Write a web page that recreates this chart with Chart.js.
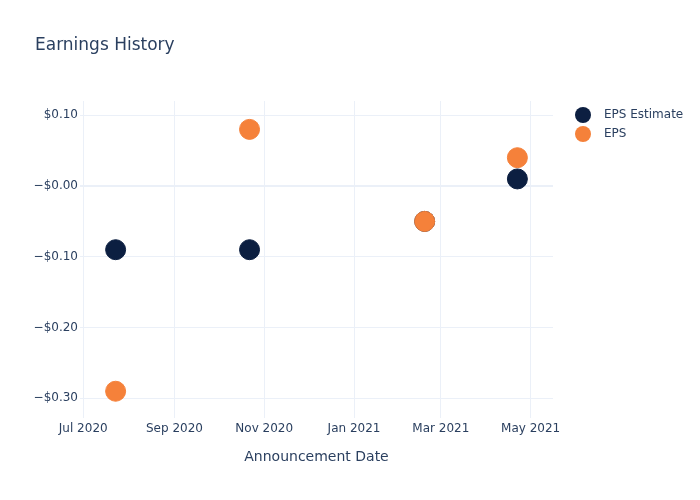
<!DOCTYPE html>
<html>
<head>
<meta charset="utf-8">
<title>Earnings History</title>
<script src="https://cdn.jsdelivr.net/npm/chart.js@4.4.1/dist/chart.umd.min.js"></script>
<style>
  html, body { margin: 0; padding: 0; background: #fff; }
  #wrap { width: 700px; height: 500px; }
</style>
</head>
<body>
<div id="wrap"><canvas id="earningsChart" width="700" height="500"></canvas></div>
<script>
// Announcement dates and EPS values
const announceDates = ['2020-07-23', '2020-10-22', '2021-02-18', '2021-04-22'];
const epsEstimate = [-0.09, -0.09, -0.05, 0.01];
const epsActual = [-0.29, 0.08, -0.05, 0.04];

// Axis ticks
const xTickDates = ['2020-07-01', '2020-09-01', '2020-11-01', '2021-01-01', '2021-03-01', '2021-05-01'];
const xTickLabels = ['Jul 2020', 'Sep 2020', 'Nov 2020', 'Jan 2021', 'Mar 2021', 'May 2021'];
const yTickValues = [-0.3, -0.2, -0.1, 0, 0.1];
const yTickLabels = ['\u2212$0.30', '\u2212$0.20', '\u2212$0.10', '\u2212$0.00', '$0.10'];

const toMs = (d) => Date.parse(d + 'T00:00:00Z');
const DAY = 86400000;

const navy = '#0c1f41';
const orange = '#f5813a';
const textColor = '#2a3f5f';
const gridColor = '#ebf0f8';
const fontFamily = '"DejaVu Sans", Verdana, sans-serif';

// title + legend drawn on the canvas
const titleAndLegend = {
  id: 'titleAndLegend',
  afterDraw(chart) {
    const ctx = chart.ctx;
    ctx.save();
    ctx.fillStyle = textColor;
    ctx.font = '17px ' + fontFamily;
    ctx.textBaseline = 'middle';
    ctx.textAlign = 'left';
    ctx.fillText('Earnings History', 35, 46);

    ctx.font = '12px ' + fontFamily;
    chart.data.datasets.forEach((ds, i) => {
      const y = 115 + i * 19;
      ctx.beginPath();
      ctx.arc(583, y, 8, 0, Math.PI * 2);
      ctx.fillStyle = ds.backgroundColor;
      ctx.fill();
      ctx.fillStyle = textColor;
      ctx.fillText(ds.label, 604, y);
    });
    ctx.restore();
  }
};

const ctx = document.getElementById('earningsChart').getContext('2d');
const chart = new Chart(ctx, {
  type: 'scatter',
  data: {
    datasets: [{
      label: 'EPS Estimate',
      data: announceDates.map((d, i) => ({ x: toMs(d), y: epsEstimate[i] })),
      backgroundColor: navy,
      borderColor: navy,
      pointRadius: 10,
      pointHoverRadius: 10,
      order: 1
    }, {
      label: 'EPS',
      data: announceDates.map((d, i) => ({ x: toMs(d), y: epsActual[i] })),
      backgroundColor: orange,
      borderColor: orange,
      pointRadius: 10,
      pointHoverRadius: 10,
      order: 0
    }]
  },
  options: {
    responsive: false,
    animation: false,
    layout: { padding: { top: 101, right: 147, left: 0, bottom: 0 } },
    plugins: {
      legend: { display: false },
      title: { display: false },
      tooltip: { enabled: false }
    },
    scales: {
      x: {
        type: 'linear',
        min: toMs(xTickDates[0]) - 2.2 * DAY,
        max: toMs(xTickDates[xTickDates.length - 1]) + 15.2 * DAY,
        afterBuildTicks: (scale) => { scale.ticks = xTickDates.map(d => ({ value: toMs(d) })); },
        afterFit: (scale) => { scale.height = 82; },
        grid: { color: gridColor, drawTicks: false },
        border: { display: false },
        ticks: {
          color: textColor,
          font: { family: fontFamily, size: 12 },
          padding: 4,
          maxRotation: 0,
          autoSkip: false,
          callback: (value) => {
            const idx = xTickDates.findIndex(d => toMs(d) === value);
            return idx >= 0 ? xTickLabels[idx] : '';
          }
        },
        title: {
          display: true,
          text: 'Announcement Date',
          color: textColor,
          font: { family: fontFamily, size: 14 },
          padding: { top: 0, bottom: 34 }
        }
      },
      y: {
        min: -0.3278,
        max: 0.1201,
        afterBuildTicks: (scale) => { scale.ticks = yTickValues.map(v => ({ value: v })); },
        afterFit: (scale) => { scale.width = 80; },
        grid: {
          drawTicks: false,
          color: gridColor,
          lineWidth: (c) => (c.tick && c.tick.value === 0 ? 2 : 1)
        },
        border: { display: false },
        ticks: {
          color: textColor,
          font: { family: fontFamily, size: 12 },
          padding: 2,
          callback: (value) => {
            const idx = yTickValues.indexOf(value);
            return idx >= 0 ? yTickLabels[idx] : '';
          }
        }
      }
    }
  },
  plugins: [titleAndLegend]
});
</script>
</body>
</html>
